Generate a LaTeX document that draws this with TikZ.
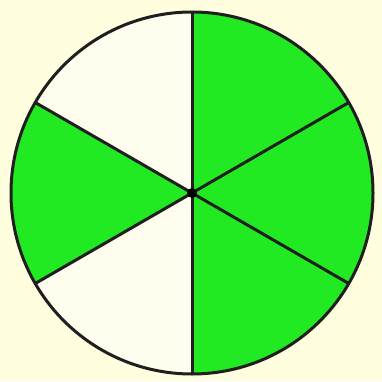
\documentclass[tikz,border=0pt]{standalone}
\definecolor{bg}{HTML}{FFFFE0}
\definecolor{inner}{HTML}{FFFEEE}
\definecolor{grn}{HTML}{22EA22}
\begin{document}
\begin{tikzpicture}[x=1pt,y=1pt,edge/.style={line width=3pt,black!88}]
\fill[bg] (0,0) rectangle (382,381);
\useasboundingbox (0,0) rectangle (382,381);
\coordinate (c) at (192,188);
\fill[inner] (c) circle (181);
\fill[grn] (c) -- ++(90:181) arc (90:-90:181) -- cycle;
\fill[grn] (c) -- ++(150:181) arc (150:210:181) -- cycle;
\draw[edge] (c) circle (181);
\foreach \a in {90,30,-30,150,210,270} \draw[edge] (c) -- ++(\a:181);
\fill[black] (c) circle (5);
\end{tikzpicture}
\end{document}
